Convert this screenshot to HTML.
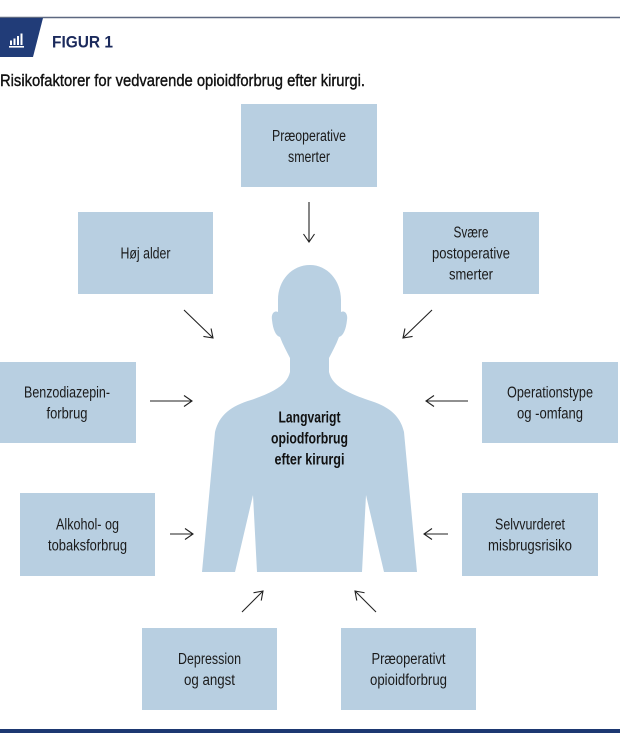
<!DOCTYPE html>
<html>
<head>
<meta charset="utf-8">
<style>
  html, body { margin:0; padding:0; background:#ffffff; }
  body { width:620px; height:739px; overflow:hidden; }
  svg { display:block; }
  .bx { fill:#b8cfe1; }
  .t { font-family:"Liberation Sans", sans-serif; font-size:15.5px; fill:#1a1a1a; text-anchor:middle; }
  .tb { font-family:"Liberation Sans", sans-serif; font-size:15.5px; font-weight:bold; fill:#111; text-anchor:middle; }
  .ar { stroke:#222; stroke-width:1.1; fill:none; }
</style>
</head>
<body>
<svg width="620" height="739" viewBox="0 0 620 739" xmlns="http://www.w3.org/2000/svg">
  <defs>
    <marker id="ah" markerUnits="userSpaceOnUse" markerWidth="12" markerHeight="14" refX="9" refY="6" orient="auto">
      <path d="M1,0.5 L9,6 L1,11.5" fill="none" stroke="#222" stroke-width="1.1"/>
    </marker>
  </defs>

  <!-- header -->
  <line x1="0" y1="17.5" x2="620" y2="17.5" stroke="#5d6880" stroke-width="1.5"/>
  <polygon points="0,18 43,18 33,57 0,57" fill="#213c78"/>
  <!-- icon -->
  <rect x="9" y="46" width="15" height="1.6" fill="#fff"/>
  <rect x="10" y="40.5" width="2" height="4.5" fill="#fff"/>
  <rect x="13.5" y="38.5" width="2" height="6.5" fill="#fff"/>
  <rect x="17" y="36" width="2" height="9" fill="#fff"/>
  <rect x="20.5" y="33.5" width="2" height="11.5" fill="#fff"/>
  <text x="52" y="47.5" font-family="Liberation Sans, sans-serif" font-size="17" font-weight="bold" fill="#1b2a5c" textLength="61" lengthAdjust="spacingAndGlyphs">FIGUR 1</text>
  <text x="0" y="86" font-family="Liberation Sans, sans-serif" font-size="16.5" fill="#111" stroke="#111" stroke-width="0.4" textLength="365" lengthAdjust="spacingAndGlyphs">Risikofaktorer for vedvarende opioidforbrug efter kirurgi.</text>

  <!-- silhouette -->
  <path fill="#b9d0e2" d="M 310 265
    C 327 265, 341 280, 341 300
    L 341 312
    C 345 310, 348 314, 347 320
    C 346 330, 343 336, 339 337
    C 336 345, 332 352, 329 358
    L 329 372
    C 332 385, 345 392, 368 400
    C 388 406, 400 415, 404 432
    L 417 572
    L 384 572
    L 366 495
    L 362 572
    L 257 572
    L 253 495
    L 235 572
    L 202 572
    L 215 432
    C 219 415, 231 406, 251 400
    C 274 392, 287 385, 290 372
    L 290 358
    C 287 352, 283 345, 280 337
    C 276 336, 273 330, 272 320
    C 271 314, 274 310, 278 312
    L 278 300
    C 278 280, 292 265, 310 265 Z"/>
  <text class="tb" x="309.5" y="422.5" textLength="62" lengthAdjust="spacingAndGlyphs">Langvarigt</text>
  <text class="tb" x="309.5" y="443.5" textLength="77" lengthAdjust="spacingAndGlyphs">opiodforbrug</text>
  <text class="tb" x="309.5" y="464.5" textLength="70" lengthAdjust="spacingAndGlyphs">efter kirurgi</text>

  <!-- boxes -->
  <rect class="bx" x="241" y="104" width="136" height="83"/>
  <text class="t" x="309" y="141" textLength="74" lengthAdjust="spacingAndGlyphs">Præoperative</text>
  <text class="t" x="309" y="162" textLength="42" lengthAdjust="spacingAndGlyphs">smerter</text>

  <rect class="bx" x="78" y="212" width="135" height="82"/>
  <text class="t" x="145.5" y="258.5" textLength="50" lengthAdjust="spacingAndGlyphs">Høj alder</text>

  <rect class="bx" x="403" y="212" width="136" height="82"/>
  <text class="t" x="471" y="237.5" textLength="35" lengthAdjust="spacingAndGlyphs">Svære</text>
  <text class="t" x="471" y="258.5" textLength="78" lengthAdjust="spacingAndGlyphs">postoperative</text>
  <text class="t" x="471" y="279.5" textLength="44" lengthAdjust="spacingAndGlyphs">smerter</text>

  <rect class="bx" x="0" y="362" width="136" height="81"/>
  <text class="t" x="67" y="397.5" textLength="86" lengthAdjust="spacingAndGlyphs">Benzodiazepin-</text>
  <text class="t" x="67" y="418.5" textLength="41" lengthAdjust="spacingAndGlyphs">forbrug</text>

  <rect class="bx" x="482" y="362" width="136" height="81"/>
  <text class="t" x="550" y="397.5" textLength="86" lengthAdjust="spacingAndGlyphs">Operationstype</text>
  <text class="t" x="550" y="418.5" textLength="66" lengthAdjust="spacingAndGlyphs">og -omfang</text>

  <rect class="bx" x="20" y="493" width="135" height="83"/>
  <text class="t" x="87.5" y="529.5" textLength="63" lengthAdjust="spacingAndGlyphs">Alkohol- og</text>
  <text class="t" x="87.5" y="550.5" textLength="79" lengthAdjust="spacingAndGlyphs">tobaksforbrug</text>

  <rect class="bx" x="462" y="493" width="136" height="83"/>
  <text class="t" x="530" y="529.5" textLength="70" lengthAdjust="spacingAndGlyphs">Selvvurderet</text>
  <text class="t" x="530" y="550.5" textLength="84" lengthAdjust="spacingAndGlyphs">misbrugsrisiko</text>

  <rect class="bx" x="142" y="628" width="135" height="82"/>
  <text class="t" x="209.5" y="664" textLength="63" lengthAdjust="spacingAndGlyphs">Depression</text>
  <text class="t" x="209.5" y="685" textLength="51" lengthAdjust="spacingAndGlyphs">og angst</text>

  <rect class="bx" x="341" y="628" width="135" height="82"/>
  <text class="t" x="408.5" y="664" textLength="74" lengthAdjust="spacingAndGlyphs">Præoperativt</text>
  <text class="t" x="408.5" y="685" textLength="77" lengthAdjust="spacingAndGlyphs">opioidforbrug</text>

  <!-- arrows -->
  <line class="ar" x1="309" y1="202" x2="309" y2="242" marker-end="url(#ah)"/>
  <line class="ar" x1="184" y1="310" x2="213" y2="338" marker-end="url(#ah)"/>
  <line class="ar" x1="432" y1="310" x2="403" y2="338" marker-end="url(#ah)"/>
  <line class="ar" x1="150" y1="401" x2="192" y2="401" marker-end="url(#ah)"/>
  <line class="ar" x1="468" y1="401" x2="426" y2="401" marker-end="url(#ah)"/>
  <line class="ar" x1="170" y1="534" x2="193" y2="534" marker-end="url(#ah)"/>
  <line class="ar" x1="448" y1="534" x2="424" y2="534" marker-end="url(#ah)"/>
  <line class="ar" x1="242" y1="612" x2="263" y2="591" marker-end="url(#ah)"/>
  <line class="ar" x1="376" y1="612" x2="355" y2="591" marker-end="url(#ah)"/>

  <!-- bottom rule -->
  <rect x="0" y="729" width="620" height="4" fill="#1d3871"/>
</svg>
</body>
</html>
